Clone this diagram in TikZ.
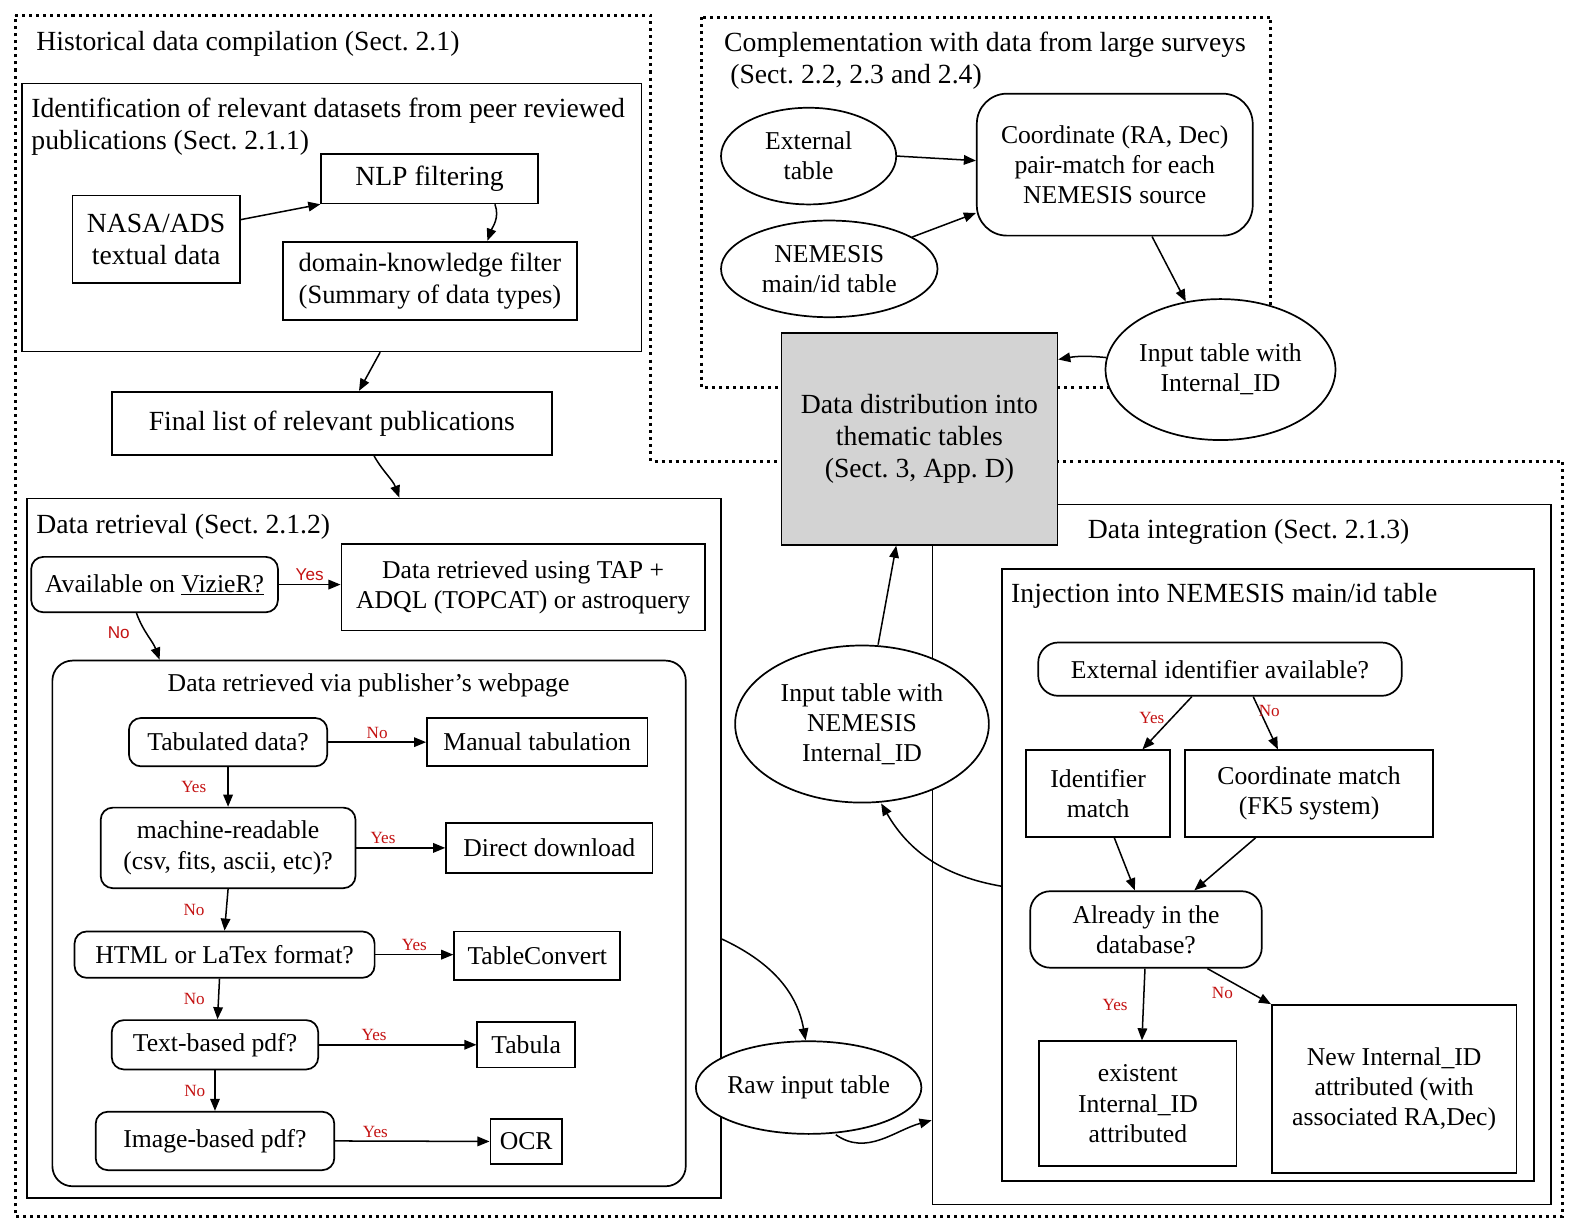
\documentclass[tikz,border=0pt]{standalone}
\usepackage{fontspec}
\setmainfont{Liberation Serif}
\setsansfont{Liberation Sans}
\usepackage{xcolor}
\usetikzlibrary{shapes.geometric,arrows.meta,positioning,calc}
\frenchspacing

\definecolor{lblred}{RGB}{196,18,18}
\definecolor{distgray}{RGB}{211,211,211}
\newcommand{\bigtxt}{\fontsize{27.5}{32}\selectfont}
\newcommand{\normtxt}{\fontsize{25.5}{30}\selectfont}

\tikzset{
    box/.style={draw, line width=1.7pt, fill=white, align=center, inner sep=0pt, font=\normtxt},
    rbox/.style={box, rounded corners=12pt},
    oval/.style={box, ellipse},
    heading/.style={inner sep=0pt, align=left, font=\bigtxt},
    arr/.style={-{Triangle[length=12pt,width=9.5pt]}, line width=1.5pt},
    dotline/.style={line width=3pt, dash pattern=on 3pt off 4pt},
    lbl/.style={text=lblred, inner sep=1pt, font=\fontsize{17}{20}\selectfont},
    slbl/.style={lbl, font=\sffamily\fontsize{17}{20}\selectfont},
}

\begin{document}
\begin{tikzpicture}[x=1pt, y=-1pt]
    \useasboundingbox (0,0) rectangle (1578,1226);
    \begin{scope}[transform canvas={scale=1.007}]

    % Dotted frames
    \draw [dotline] (15,15) -- (646,15) -- (646,458) -- (1552,458) -- (1552,1208) -- (15,1208) -- cycle;
    \draw [dotline] (697,17) rectangle (1262,385);

    % Historical data compilation
    \node [heading, anchor=west] (histtitle) at (36,44) {Historical data compilation (Sect. 2.1)};
    \node [box, minimum width=615pt, minimum height=266pt] (ident) at (329.5,216) {};
    \node [heading, anchor=west] (identtitle) at (31,126) {Identification of relevant datasets from peer reviewed\\publications (Sect. 2.1.1)};
    \node [box, font=\bigtxt, minimum width=215pt, minimum height=49pt] (nlp) at (426.5,177.5) {NLP filtering};
    \node [box, font=\bigtxt, minimum width=166pt, minimum height=87pt] (nasa) at (155,237.5) {NASA/ADS\\textual data};
    \node [box, font=\fontsize{26.3}{31}\selectfont, minimum width=292pt, minimum height=78pt] (domain) at (427,279) {domain-knowledge filter\\(Summary of data types)};
    \node [box, font=\bigtxt, minimum width=437pt, minimum height=63pt] (final) at (329.5,420.5) {Final list of relevant publications};

    % Data retrieval
    \node [box, minimum width=689pt, minimum height=695pt] (retr) at (371.5,842.5) {};
    \node [heading, anchor=west] (retrtitle) at (36,523) {Data retrieval (Sect. 2.1.2)};
    \node [rbox, minimum width=245pt, minimum height=55pt] (vizier) at (153.5,580.5) {Available on \underline{VizieR?}};
    \node [box, minimum width=361pt, minimum height=86pt] (tap) at (519.5,583) {Data retrieved using TAP +\\ADQL (TOPCAT) or astroquery};
    \node [rbox, rounded corners=20pt, minimum width=629pt, minimum height=522pt] (pub) at (366.5,917) {};
    \node [font=\normtxt, inner sep=0pt] (pubtitle) at (366,681) {Data retrieved via publisher's webpage};
    \node [rbox, minimum width=197pt, minimum height=48pt] (tab) at (226.5,737) {Tabulated data?};
    \node [box, minimum width=219pt, minimum height=48pt] (manual) at (533.5,737) {Manual tabulation};
    \node [rbox, minimum width=253pt, minimum height=80pt] (machine) at (226.5,842) {machine-readable\\(csv, fits, ascii, etc)?};
    \node [box, minimum width=205pt, minimum height=50pt] (direct) at (545.5,842) {Direct download};
    \node [rbox, minimum width=298pt, minimum height=46pt] (html) at (223,948) {HTML or LaTex format?};
    \node [box, minimum width=165pt, minimum height=48pt] (tconv) at (533.5,949) {TableConvert};
    \node [rbox, minimum width=205pt, minimum height=49pt] (textpdf) at (213.5,1037.5) {Text-based pdf?};
    \node [box, minimum width=97pt, minimum height=45pt] (tabula) at (522.5,1037.5) {Tabula};
    \node [rbox, minimum width=237pt, minimum height=58pt] (imgpdf) at (213.5,1133) {Image-based pdf?};
    \node [box, minimum width=71pt, minimum height=45pt] (ocr) at (522.5,1133.5) {OCR};
    \node [oval, inner xsep=-3pt, minimum width=224pt, minimum height=92pt] (raw) at (803,1080) {Raw input table};

    % Data integration
    \node [box, minimum width=614pt, minimum height=695pt] (integ) at (1233,848.5) {};
    \node [heading] (integtitle) at (1240,528) {Data integration (Sect. 2.1.3)};
    \node [box, minimum width=528pt, minimum height=608pt] (inj) at (1259,869) {};
    \node [heading, anchor=west] (injtitle) at (1004,592) {Injection into NEMESIS main/id table};
    \node [rbox, rounded corners=20pt, minimum width=361pt, minimum height=53pt] (extid) at (1211.5,664.5) {External identifier available?};
    \node [box, minimum width=143pt, minimum height=86pt] (idm) at (1090.5,788) {Identifier\\match};
    \node [box, minimum width=246pt, minimum height=86pt] (coordm) at (1300,788) {Coordinate match\\(FK5 system)};
    \node [rbox, rounded corners=20pt, minimum width=230pt, minimum height=76pt] (already) at (1138,923) {Already in the\\database?};
    \node [box, minimum width=196pt, minimum height=124pt] (exist) at (1130,1096) {existent\\Internal\_ID\\attributed};
    \node [box, minimum width=243pt, minimum height=167pt] (newid) at (1384.5,1081.5) {New Internal\_ID\\attributed (with\\associated RA,Dec)};
    \node [oval, minimum width=252pt, minimum height=156pt] (nemid) at (856,719) {Input table with\\NEMESIS\\Internal\_ID};

    % Complementation with large surveys
    \node [heading, anchor=west] (compltitle) at (719,60) {Complementation with data from large surveys\\\hspace{6pt}(Sect. 2.2, 2.3 and 2.4)};
    \node [oval, minimum width=174pt, minimum height=96pt] (ext) at (803,155) {External\\table};
    \node [oval, minimum width=215pt, minimum height=96pt] (nemmain) at (823.5,267) {NEMESIS\\main/id table};
    \node [box, rounded corners=30pt, minimum width=274pt, minimum height=141pt] (coord) at (1107,163.5) {Coordinate (RA, Dec)\\pair-match for each\\NEMESIS source};
    \node [oval, minimum width=228pt, minimum height=140pt] (inp) at (1212,367) {Input table with\\Internal\_ID};
    \node [box, fill=distgray, font=\bigtxt, minimum width=274pt, minimum height=210pt] (dist) at (913,436) {Data distribution into\\thematic tables\\(Sect. 3, App. D)};

    % Connectors: historical part
    \draw [arr] (nasa.13) -- (nlp.south west);
    \draw [arr] ([xshift=65pt]nlp.south) to[out=-70,in=70] ([xshift=57pt]domain.north);
    \draw [arr] ([xshift=48pt]ident.south) -- ([xshift=27pt]final.north);
    \draw [arr] ([xshift=42pt]final.south) to[out=-60,in=110] ([xshift=25pt]retr.north);

    % Connectors: retrieval
    \draw [arr] (vizier.east) -- node [slbl, above=2pt] {Yes} (vizier.east -| tap.west);
    \draw [arr] ([xshift=-18pt]vizier.south) to[out=-70,in=110] node [slbl, pos=0.4, left=14pt] {No} ([xshift=-208pt]pub.north);
    \draw [arr] (tab.east) -- node [lbl, above=2pt] {No} (manual.west);
    \draw [arr] (tab.south) -- node [lbl, left=20pt] {Yes} (machine.north);
    \draw [arr] (machine.east) -- node [lbl, pos=0.3, above=2pt] {Yes} (direct.west);
    \draw [arr] (machine.south) -- node [lbl, left=20pt] {No} (html.north);
    \draw [arr] (html.east) -- node [lbl, above=2pt] {Yes} (html.east -| tconv.west);
    \draw [arr] ([xshift=-5pt]html.south) -- node [lbl, left=12pt] {No} ([xshift=2.5pt]textpdf.north);
    \draw [arr] (textpdf.east) -- node [lbl, pos=0.35, above=2pt] {Yes} (tabula.west);
    \draw [arr] (textpdf.south) -- node [lbl, left=8pt] {No} (imgpdf.north);
    \draw [arr] (imgpdf.east) -- node [lbl, pos=0.26, above=2pt] {Yes} (ocr.west);
    \draw [arr] ([yshift=-90pt]retr.east) to[out=-25,in=100] ([xshift=-3pt]raw.north);
    \draw [arr] ([xshift=27pt]raw.south) to[out=-35,in=195] ([yshift=-264pt]integ.west);

    % Connectors: integration
    \draw [arr] ([xshift=-28pt]extid.south) -- node [lbl, pos=0.4, left=6pt] {Yes} ([xshift=44pt]idm.north);
    \draw [arr] ([xshift=33pt]extid.south) -- node [lbl, pos=0.28, right=-3pt] {No} ([xshift=-31pt]coordm.north);
    \draw [arr] ([xshift=16pt]idm.south) -- ([xshift=-11pt]already.north);
    \draw [arr] ([xshift=-53pt]coordm.south) -- ([xshift=48pt]already.north);
    \draw [arr] ([xshift=-1pt]already.south) -- node [lbl, left=14pt] {Yes} ([xshift=4pt]exist.north);
    \draw [arr] ([xshift=61pt]already.south) -- node [lbl, pos=0.45, below left=2pt] {No} (newid.north west);
    \draw [arr] ([yshift=-11pt]inj.west) to[out=170,in=-60] ([xshift=19pt]nemid.south);
    \draw [arr] ([xshift=16pt]nemid.north) -- ([xshift=-23pt]dist.south);

    % Connectors: complementation
    \draw [arr] (ext.east) -- ([yshift=4pt]coord.west);
    \draw [arr] (nemmain.21) -- ([yshift=-48pt]coord.west);
    \draw [arr] ([xshift=37pt]coord.south) -- (inp.117);
    \draw [arr] (inp.174) to[bend right=8] ([yshift=79pt]dist.east);
    \end{scope}
\end{tikzpicture}
\end{document}
